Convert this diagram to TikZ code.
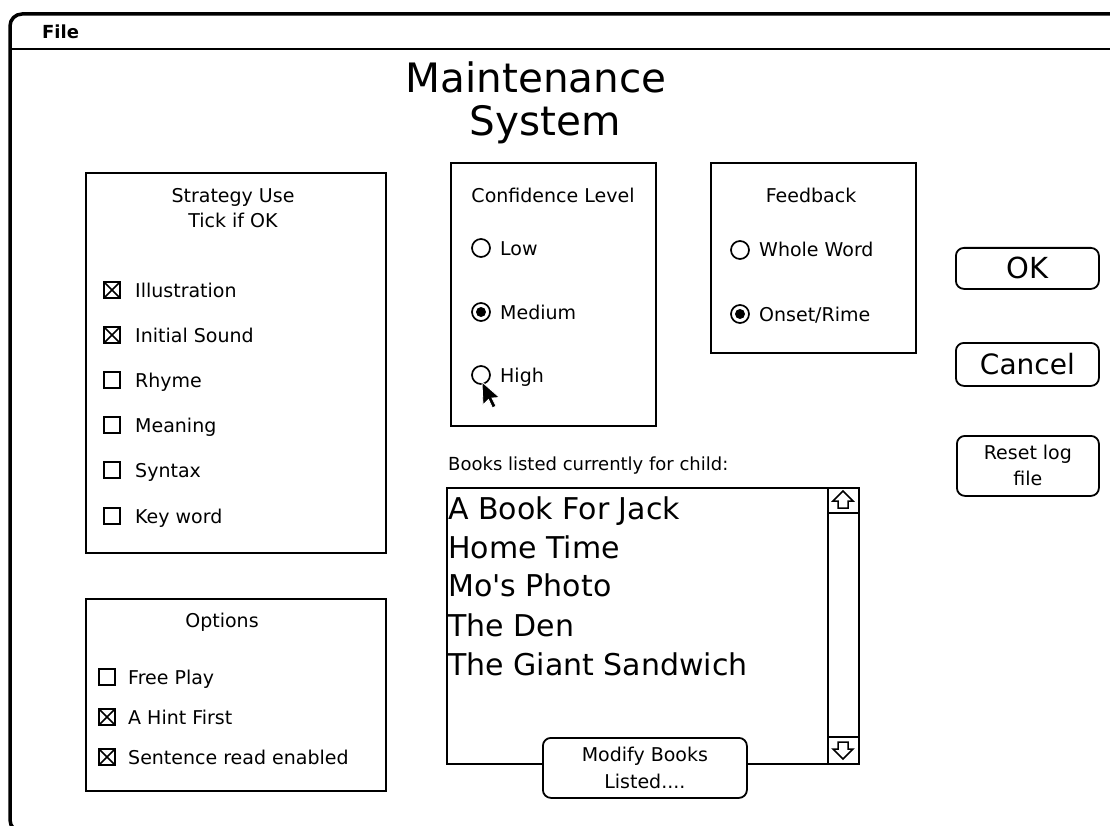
\documentclass[tikz,border=0pt]{standalone}
\usepackage{fontspec}
\setmainfont{DejaVu Sans}
\begin{document}
\begin{tikzpicture}[x=1pt,y=-1pt,
  frame/.style={draw,line width=1.8pt,inner sep=0pt,anchor=north west},
  btn/.style={draw,line width=1.8pt,rounded corners=8pt,fill=white,inner sep=0pt,anchor=north west,align=center},
  lbl/.style={anchor=west,inner sep=0pt,text height=14pt,text depth=0pt,font=\fontsize{19}{22}\selectfont},
  ctr/.style={inner sep=0pt,font=\fontsize{19}{22}\selectfont,align=center},
  chk/.style={draw,line width=1.8pt,minimum size=16pt,inner sep=0pt},
  chkx/.style={chk,path picture={\draw[line width=1.5pt]
      (path picture bounding box.north west) -- (path picture bounding box.south east)
      (path picture bounding box.north east) -- (path picture bounding box.south west);}},
  radio/.style={draw,circle,line width=1.7pt,minimum size=18pt,inner sep=0pt},
  radioon/.style={radio,path picture={\fill (path picture bounding box.center) circle (5pt);}},
  book/.style={anchor=west,inner sep=0pt,text height=22pt,text depth=0pt,font=\fontsize{30}{34}\selectfont},
  ttl/.style={inner sep=0pt,text height=29pt,text depth=0pt,font=\fontsize{40.5}{44}\selectfont}]
\useasboundingbox (0,0) rectangle (1110,826);

% window frame and menu bar
\draw[line width=3.5pt,rounded corners=12pt] (1120,14) -- (10,14) -- (10,832) -- (40,832);
\draw[line width=1.8pt] (10,49) -- (1110,49);
\node[anchor=west,inner sep=0pt,font=\fontsize{18}{20}\selectfont\bfseries] (file) at (42,32) {File};

% title
\node[ttl] (t1) at (536,78) {Maintenance};
\node[ttl] (t2) at (545,121) {System};

% strategy panel
\node[frame,minimum width=300pt,minimum height=380pt] (strategy) at (85,172) {};
\node[ctr] (sth) at (233,208) {Strategy Use\\[3pt]Tick if OK};
\node[chkx] (s1) at (112,290) {}; \node[lbl] (s1l) at (135,290) {Illustration};
\node[chkx] (s2) at (112,335) {}; \node[lbl] (s2l) at (135,335) {Initial Sound};
\node[chk]  (s3) at (112,380) {}; \node[lbl] (s3l) at (135,380) {Rhyme};
\node[chk]  (s4) at (112,425) {}; \node[lbl] (s4l) at (135,425) {Meaning};
\node[chk]  (s5) at (112,470) {}; \node[lbl] (s5l) at (135,470) {Syntax};
\node[chk]  (s6) at (112,516) {}; \node[lbl] (s6l) at (135,516) {Key word};

% options panel
\node[frame,minimum width=300pt,minimum height=192pt] (options) at (85,598) {};
\node[ctr] (oph) at (222,622) {Options};
\node[chk]  (o1) at (107,677) {}; \node[lbl] (o1l) at (128,677) {Free Play};
\node[chkx] (o2) at (107,717) {}; \node[lbl] (o2l) at (128,717) {A Hint First};
\node[chkx] (o3) at (107,757) {}; \node[lbl] (o3l) at (128,757) {Sentence read enabled};

% confidence panel
\node[frame,minimum width=205pt,minimum height=263pt] (conf) at (450,162) {};
\node[ctr] (cfh) at (553,195) {Confidence Level};
\node[radio]   (c1) at (481,248) {}; \node[lbl] (c1l) at (500,248) {Low};
\node[radioon] (c2) at (481,312) {}; \node[lbl] (c2l) at (500,312) {Medium};
\node[radio]   (c3) at (481,375) {}; \node[lbl] (c3l) at (500,375) {High};

% feedback panel
\node[frame,minimum width=205pt,minimum height=190pt] (fb) at (710,162) {};
\node[ctr] (fbh) at (811,195) {Feedback};
\node[radio]   (f1) at (740,250) {}; \node[lbl] (f1l) at (759,250) {Whole Word};
\node[radioon] (f2) at (740,314) {}; \node[lbl] (f2l) at (759,314) {Onset/Rime};

% buttons
\node[btn,minimum width=143pt,minimum height=41pt,font=\fontsize{29}{32}\selectfont] (ok) at (955,247) {OK};
\node[btn,minimum width=143pt,minimum height=43pt,font=\fontsize{28}{32}\selectfont] (cancel) at (955,342) {Cancel};
\node[btn,minimum width=142pt,minimum height=60pt,font=\fontsize{19}{26}\selectfont] (reset) at (956,435) {Reset log\\file};

% book list
\node[anchor=west,inner sep=0pt,font=\fontsize{18}{20}\selectfont] (blh) at (448,466) {Books listed currently for child:};
\node[frame,minimum width=412pt,minimum height=276pt] (list) at (446,487) {};
\draw[line width=1.8pt] (828,487) -- (828,763) (828,513) -- (858,513) (828,737) -- (858,737);
\draw[line width=1.5pt,line join=miter] (843,491) -- (853,501) -- (848,501) -- (848,508) -- (838,508) -- (838,501) -- (833,501) -- cycle;
\draw[line width=1.5pt,line join=miter] (843,759) -- (853,749) -- (848,749) -- (848,742) -- (838,742) -- (838,749) -- (833,749) -- cycle;
\node[book] (b1) at (448,508) {A Book For Jack};
\node[book] (b2) at (448,547) {Home Time};
\node[book] (b3) at (448,585) {Mo\textquotesingle s Photo};
\node[book] (b4) at (448,625) {The Den};
\node[book] (b5) at (448,664) {The Giant Sandwich};
\node[btn,minimum width=204pt,minimum height=60pt,font=\fontsize{19}{27}\selectfont] (modify) at (542,737) {Modify Books\\Listed....};

% mouse pointer
\draw[fill=black,draw=white,line width=0.8pt,line join=miter]
  (482,382) -- (483,405) -- (488.5,399.5) -- (492.5,408) -- (496,406) -- (492,398) -- (499.5,397.5) -- cycle;
\end{tikzpicture}
\end{document}
